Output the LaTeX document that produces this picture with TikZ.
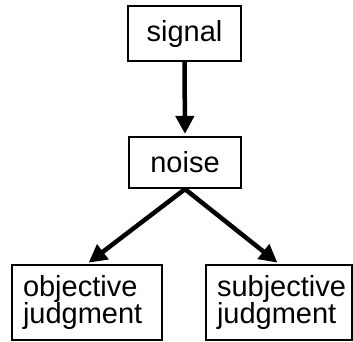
\documentclass[tikz,border=0pt]{standalone}
\usepackage{fontspec}
\setmainfont{Liberation Sans}
\usetikzlibrary{arrows.meta}
\begin{document}
\begin{tikzpicture}[x=1pt,y=-1pt,
  box/.style={draw=black,line width=2.2pt,inner sep=0pt,font=\fontsize{29}{27.5}\selectfont},
  conn/.style={line width=4.5pt,-{Triangle[length=18pt,width=18pt]},shorten >=2pt}]
\useasboundingbox (0,0) rectangle (353,341);
\node[box,minimum width=113pt,minimum height=55pt] (signal) at (184.5,33.5) {signal};
\node[box,minimum width=112pt,minimum height=51pt] (noise) at (185,162.5) {noise};
\node[box,minimum width=150pt,minimum height=75pt,text width=128pt,align=left] (obj) at (87,302.5) {objective\\judgment};
\node[box,minimum width=146pt,minimum height=75pt,text width=124pt,align=left] (subj) at (279,302.5) {subjective\\judgment};
\draw[conn] (signal.south) -- (noise.north);
\draw[conn] (noise.south) -- (obj.north);
\draw[conn] (noise.south) -- (subj.north);
\end{tikzpicture}
\end{document}
